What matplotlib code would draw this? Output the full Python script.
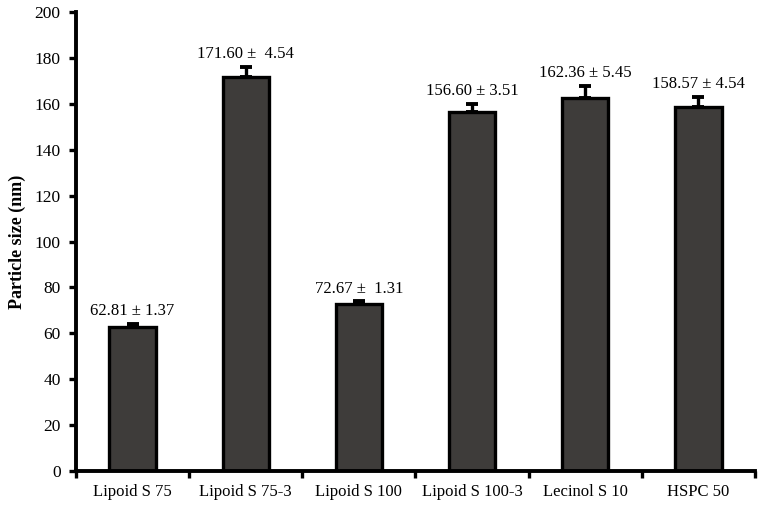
import matplotlib
matplotlib.use("Agg")
import matplotlib.pyplot as plt
import numpy as np

categories = ["Lipoid S 75", "Lipoid S 75-3", "Lipoid S 100", "Lipoid S 100-3", "Lecinol S 10", "HSPC 50"]
sizes = [62.81, 171.60, 72.67, 156.60, 162.36, 158.57]
errors = [1.37, 4.54, 1.31, 3.51, 5.45, 4.54]
labels = ["62.81 ± 1.37", "171.60 ±  4.54", "72.67 ±  1.31", "156.60 ± 3.51", "162.36 ± 5.45", "158.57 ± 4.54"]
yticks = [0, 20, 40, 60, 80, 100, 120, 140, 160, 180, 200]

plt.rcParams['font.family'] = ['Liberation Serif', 'DejaVu Serif']

fig = plt.figure(figsize=(7.63, 5.07), dpi=100)
ax = fig.add_axes([76/763, 1-471/507, (755-76)/763, (471-12)/507])

x = np.arange(len(categories))
ax.bar(x, sizes, width=0.41, color="#3e3c3a", edgecolor="black", linewidth=2.4, zorder=2)
ax.errorbar(x, sizes, yerr=[np.zeros(len(errors)), errors], fmt="none", ecolor="black",
            elinewidth=2.4, capsize=4, capthick=2.8, zorder=3)
for xi, s, e, lab in zip(x, sizes, errors, labels):
    ax.text(xi, s + e + 2.0, lab, ha="center", va="bottom", fontsize=12)

ax.set_xlim(-0.5, len(categories) - 0.5)
ax.set_ylim(0, 200)
ax.set_yticks(yticks)
ax.set_yticklabels([str(v) for v in yticks], fontsize=12.5)
ax.set_xticks(x)
ax.set_xticklabels(categories, fontsize=12)
ax.tick_params(axis="x", length=0, pad=9)
ax.set_xticks(np.arange(len(categories) + 1) - 0.5, minor=True)
ax.tick_params(axis="x", which="minor", length=5, width=2.4, direction="out")
ax.tick_params(axis="y", length=5, width=2.4, direction="out", pad=6)
for side in ["top", "right"]:
    ax.spines[side].set_visible(False)
for side in ["left", "bottom"]:
    ax.spines[side].set_linewidth(2.8)
ax.set_ylabel("Particle size (nm)", fontsize=13, fontweight="bold", labelpad=6)

fig.savefig("out.png", dpi=100)
